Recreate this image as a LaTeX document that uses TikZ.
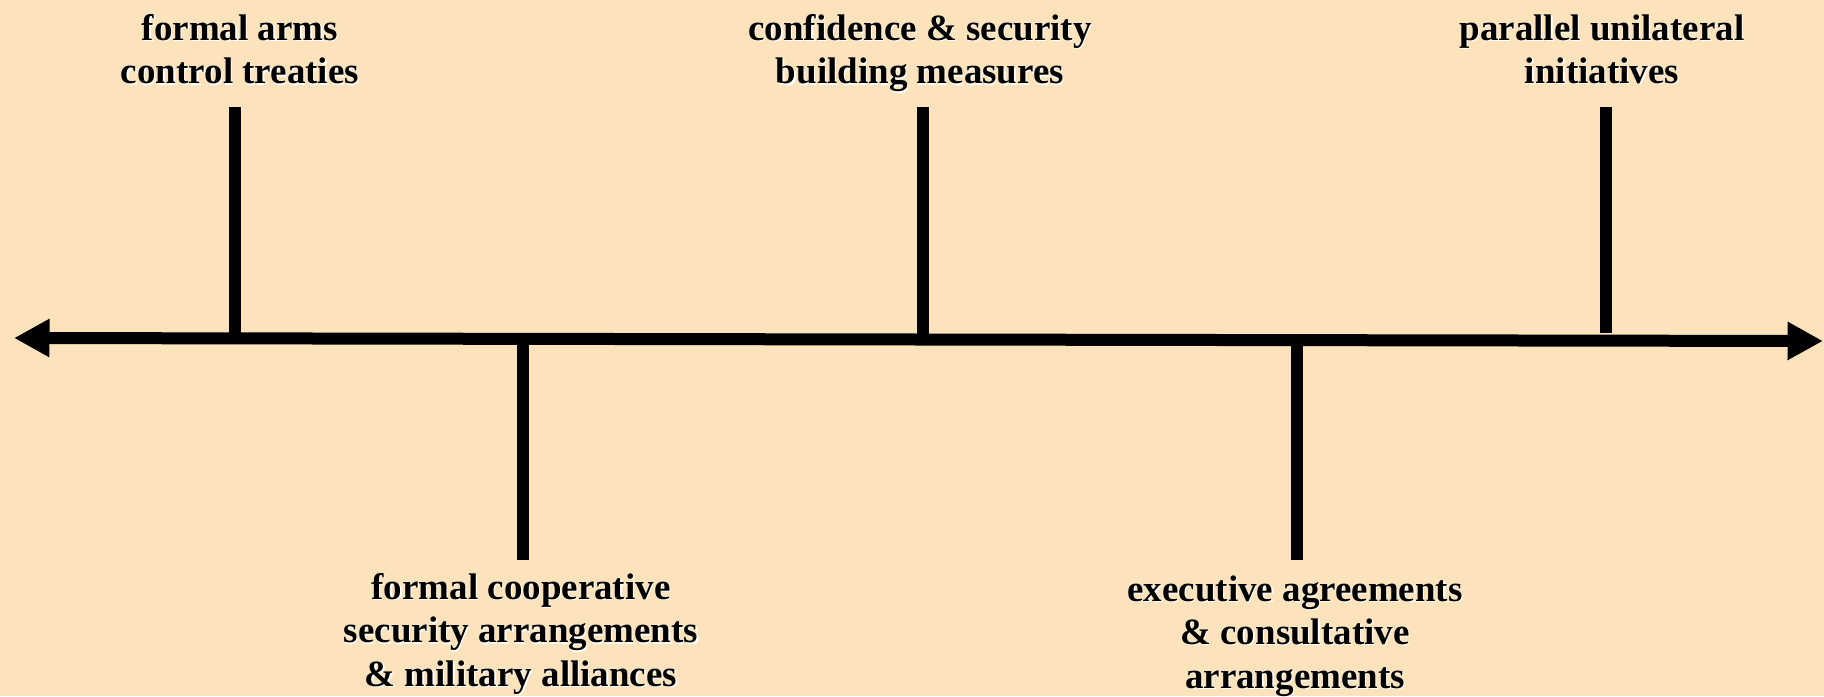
\documentclass[tikz,border=0pt]{standalone}
\usepackage{fontspec}
\setmainfont{Liberation Serif}
\usetikzlibrary{arrows.meta}
\definecolor{peach}{RGB}{252,227,188}
\newcommand{\sh}[1]{\makebox[0pt][l]{\hspace{0.6pt}\raisebox{-0.6pt}{\color{white}#1}}#1}

\begin{document}
\begin{tikzpicture}[x=0.5pt,y=-0.5pt,
  axis/.style={black,line width=6pt,{Triangle[length=17.75pt,width=18pt]}-{Triangle[length=17.75pt,width=18pt]}},
  tick/.style={black,line width=6pt},
  lbl/.style={anchor=north,inner sep=0pt,align=center,font=\fontsize{18.5pt}{21.75pt}\selectfont\bfseries}]
\fill[peach] (0,0) rectangle (1824,696);
\useasboundingbox (0,0) rectangle (1824,696);

\coordinate (west) at (14,338);
\coordinate (east) at (1823,341);
\draw[axis] (west) -- (east);

\coordinate (top1) at (235,107);
\coordinate (foot1) at (235,338.4);
\coordinate (top2) at (923,107);
\coordinate (foot2) at (923,339.5);
\coordinate (top3) at (1606,107);
\coordinate (foot3) at (1606,333);
\coordinate (foot4) at (523,338.8);
\coordinate (end4) at (523,560);
\coordinate (foot5) at (1297,340.1);
\coordinate (end5) at (1297,560);

\draw[tick] (top1) -- (foot1);
\draw[tick] (top2) -- (foot2);
\draw[tick] (top3) -- (foot3);
\draw[tick] (foot4) -- (end4);
\draw[tick] (foot5) -- (end5);

\node[lbl] (treaties) at (240,14) {\sh{formal arms}\\\sh{control treaties}};
\node[lbl] (csbm) at (920,14) {\sh{confidence \& security}\\\sh{building measures}};
\node[lbl] (unilateral) at (1602,14) {\sh{parallel unilateral}\\\sh{initiatives}};
\node[lbl] (alliances) at (521,573) {\sh{formal cooperative}\\\sh{security arrangements}\\\sh{\& military alliances}};
\node[lbl] (executive) at (1295,575) {\sh{executive agreements}\\\sh{\& consultative}\\\sh{arrangements}};
\end{tikzpicture}
\end{document}
